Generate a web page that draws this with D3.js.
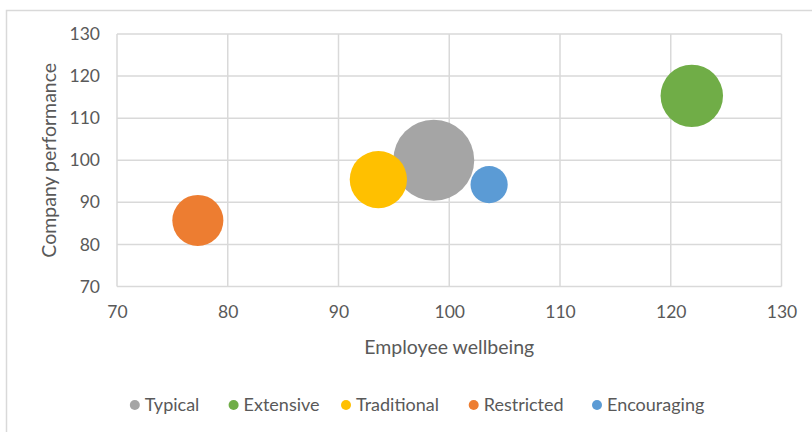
<!DOCTYPE html>
<html>
<head>
<meta charset="utf-8">
<script src="https://cdn.jsdelivr.net/npm/d3@7"></script>
<style>
  html, body { margin: 0; padding: 0; background: #ffffff; }
  svg { display: block; }
  text { font-family: Lato, "Open Sans", sans-serif; fill: #595959; }
</style>
</head>
<body>
<svg id="chart" width="812" height="432"></svg>
<script>
// ---- data ----
const categories = ["Typical", "Extensive", "Traditional", "Restricted", "Encouraging"];
const wellbeing   = [98.6, 121.9, 93.6, 77.3, 103.6];   // x
const performance = [100.0, 115.3, 95.4, 85.7, 94.2];   // y
const bubbleSize  = [37, 22, 18.5, 14.7, 7.8];          // bubble size (area)
const colors      = ["#A5A5A5", "#70AD47", "#FFC000", "#ED7D31", "#5B9BD5"];
const xTicks = [70, 80, 90, 100, 110, 120, 130];
const yTicks = [70, 80, 90, 100, 110, 120, 130];

const svg = d3.select("#chart");
const plot = { left: 117, top: 34, right: 781.5, bottom: 286.5 };
const tickFont = 17.5, titleFont = 19.5, legendFont = 18;

// outer chart border
svg.append("rect")
  .attr("x", 6.5).attr("y", 10.5)
  .attr("width", 900).attr("height", 500)
  .attr("fill", "#fff").attr("stroke", "#d9d9d9").attr("stroke-width", 1.5);

const x = d3.scaleLinear().domain([70, 130]).range([plot.left, plot.right]);
const y = d3.scaleLinear().domain([70, 130]).range([plot.bottom, plot.top]);
const r = d3.scaleSqrt().domain([0, d3.max(bubbleSize)]).range([0, 40.5]);

// gridlines
const grid = svg.append("g");
grid.selectAll("line.v").data(xTicks).join("line")
  .attr("x1", d => x(d)).attr("x2", d => x(d))
  .attr("y1", plot.top).attr("y2", plot.bottom)
  .attr("stroke", "#d9d9d9").attr("stroke-width", 1.5);
grid.selectAll("line.h").data(yTicks).join("line")
  .attr("y1", d => y(d)).attr("y2", d => y(d))
  .attr("x1", plot.left).attr("x2", plot.right)
  .attr("stroke", "#d9d9d9").attr("stroke-width", 1.5);

// axes (labels only)
const xAxis = d3.axisBottom(x).tickValues(xTicks).tickSize(0).tickPadding(0);
const gx = svg.append("g").attr("transform", `translate(0,${plot.bottom + 19})`).call(xAxis);
gx.select(".domain").remove();
gx.selectAll("text").attr("font-size", tickFont).attr("dy", "0.71em")
  .style("font-family", "Lato, sans-serif").attr("fill", "#595959");

const yAxis = d3.axisLeft(y).tickValues(yTicks).tickSize(0).tickPadding(0);
const gy = svg.append("g").attr("transform", `translate(${plot.left - 17},0)`).call(yAxis);
gy.select(".domain").remove();
gy.selectAll("text").attr("font-size", tickFont)
  .style("font-family", "Lato, sans-serif").attr("fill", "#595959");

// axis titles
svg.append("text")
  .attr("x", (plot.left + plot.right) / 2).attr("y", 354)
  .attr("text-anchor", "middle").attr("font-size", titleFont)
  .text("Employee wellbeing");
svg.append("text")
  .attr("transform", `translate(56,${(plot.top + plot.bottom) / 2}) rotate(-90)`)
  .attr("text-anchor", "middle").attr("font-size", titleFont)
  .text("Company performance");

// bubbles
const data = categories.map((c, i) => ({ c, x: wellbeing[i], y: performance[i], s: bubbleSize[i], col: colors[i] }));
svg.append("g").selectAll("circle").data(data).join("circle")
  .attr("cx", d => x(d.x)).attr("cy", d => y(d.y)).attr("r", d => r(d.s))
  .attr("fill", d => d.col);

// legend
const legendX = [134.8, 233.6, 346, 473.7, 597];
const lg = svg.append("g").attr("transform", "translate(0,405)");
const items = lg.selectAll("g").data(data).join("g")
  .attr("transform", (d, i) => `translate(${legendX[i]},0)`);
items.append("circle").attr("r", 5).attr("fill", d => d.col);
items.append("text").attr("x", 10).attr("dy", "0.35em")
  .attr("font-size", legendFont).text(d => d.c);
</script>
</body>
</html>
